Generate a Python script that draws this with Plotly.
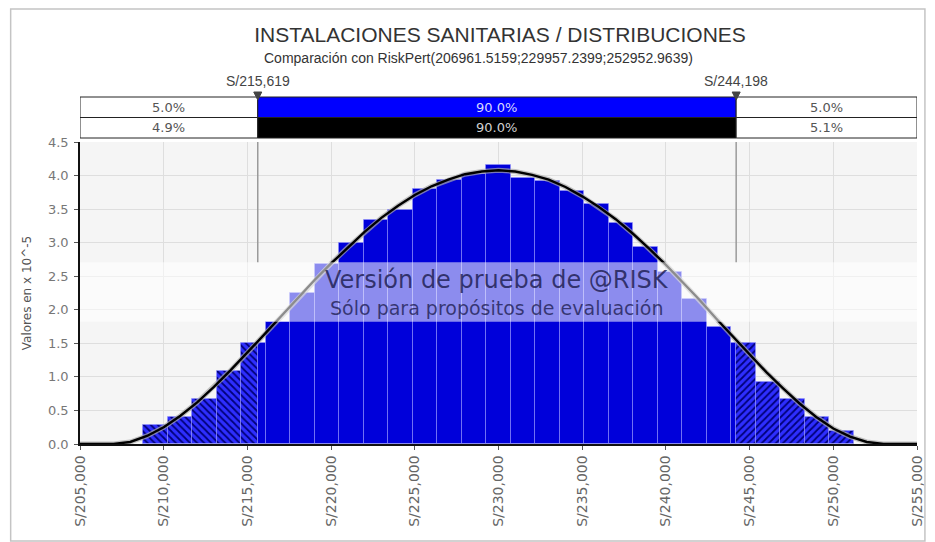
import plotly.graph_objects as go

# ---------------- data ----------------
TITLE = "INSTALACIONES SANITARIAS / DISTRIBUCIONES"
SUBTITLE = "Comparación con RiskPert(206961.5159;229957.2399;252952.9639)"
Y_TITLE = "Valores en x 10^-5"

BIN_START = 208771
BIN_WIDTH = 1464
BAR_HEIGHTS = [0.28, 0.40, 0.67, 1.09, 1.50, 1.82, 2.25, 2.68, 3.00, 3.34,
               3.49, 3.80, 3.93, 4.02, 4.15, 3.97, 3.92, 3.77, 3.57, 3.29,
               2.94, 2.57, 2.16, 1.75, 1.50, 0.93, 0.67, 0.40, 0.20]

CURVE_X = [205000, 206000, 207000, 208000, 209000, 210000, 211000, 212000, 213000, 214000,
           215000, 216000, 217000, 218000, 219000, 220000, 221000, 222000, 223000, 224000,
           225000, 226000, 227000, 228000, 229000, 230000, 231000, 232000, 233000, 234000,
           235000, 236000, 237000, 238000, 239000, 240000, 241000, 242000, 243000, 244000,
           245000, 246000, 247000, 248000, 249000, 250000, 251000, 252000, 253000, 254000,
           255000]
CURVE_Y = [0.00, 0.00, 0.00, 0.03, 0.12, 0.25, 0.42, 0.62, 0.85, 1.10,
           1.36, 1.63, 1.90, 2.17, 2.44, 2.69, 2.93, 3.16, 3.37, 3.55,
           3.71, 3.84, 3.94, 4.02, 4.06, 4.08, 4.06, 4.01, 3.94, 3.83,
           3.69, 3.53, 3.35, 3.14, 2.91, 2.67, 2.41, 2.15, 1.87, 1.60,
           1.33, 1.07, 0.83, 0.60, 0.40, 0.23, 0.11, 0.03, 0.00, 0.00,
           0.00]

DELIM_LEFT = 215619
DELIM_RIGHT = 244198
DELIM_LABELS = ["S/215,619", "S/244,198"]
ROW1_TEXT = ["5.0%", "90.0%", "5.0%"]
ROW2_TEXT = ["4.9%", "90.0%", "5.1%"]

X_MIN, X_MAX = 205000, 255000
X_TICKS = [205000, 210000, 215000, 220000, 225000, 230000, 235000, 240000, 245000, 250000, 255000]
X_TICK_TEXT = ["S/205,000", "S/210,000", "S/215,000", "S/220,000", "S/225,000", "S/230,000",
               "S/235,000", "S/240,000", "S/245,000", "S/250,000", "S/255,000"]
Y_TICKS = [0, 0.5, 1.0, 1.5, 2.0, 2.5, 3.0, 3.5, 4.0, 4.5]

WATERMARK_1 = "Versión de prueba de @RISK"
WATERMARK_2 = "Sólo para propósitos de evaluación"
BAND = (1.82, 2.71)

# ---------------- layout geometry ----------------
OFF = 8                       # page body margin
W, H = 927, 534
ML, MR, MT, MB = 72, 10, 134, 98
PW, PH = W - ML - MR, H - MT - MB


def py(pix):  # reference pixel row -> paper y
    return (H - MB - (pix - OFF)) / PH


def px(pix):  # reference pixel col -> paper x
    return (pix - OFF - ML) / PW


SANS = "Liberation Sans, Arial, sans-serif"
DJ = "DejaVu Sans, Verdana, sans-serif"

# ---------------- bars (split at the delimiters) ----------------
SOLID = "#0000da"
HATCH_BG = "#2e2eff"
sx, sw, sy = [], [], []          # solid (inside 90%)
hx, hw, hy, hs = [], [], [], []  # hatched tails
for i, h in enumerate(BAR_HEIGHTS):
    lo = BIN_START + i * BIN_WIDTH
    hi = lo + BIN_WIDTH
    cuts = [lo] + [d for d in (DELIM_LEFT, DELIM_RIGHT) if lo < d < hi] + [hi]
    for a, b in zip(cuts[:-1], cuts[1:]):
        mid = (a + b) / 2
        if DELIM_LEFT <= mid <= DELIM_RIGHT:
            sx.append(mid); sw.append(b - a); sy.append(h)
        else:
            hx.append(mid); hw.append(b - a); hy.append(h)
            hs.append("\\" if mid < DELIM_LEFT else "/")

fig = go.Figure()
fig.add_trace(go.Bar(
    x=sx, y=sy, width=sw,
    marker=dict(color=SOLID, line=dict(color="rgba(150,150,255,0.55)", width=1)),
    hoverinfo="skip", showlegend=False))
fig.add_trace(go.Bar(
    x=hx, y=hy, width=hw,
    marker=dict(color=HATCH_BG, line=dict(color="rgba(150,150,255,0.55)", width=1),
                pattern=dict(shape=hs, fillmode="overlay", bgcolor=HATCH_BG,
                             fgcolor="#000078", fgopacity=1, size=5, solidity=0.35)),
    hoverinfo="skip", showlegend=False))

fig.add_trace(go.Scatter(x=CURVE_X, y=CURVE_Y, mode="lines",
                         line=dict(color="rgba(170,170,170,0.7)", width=5),
                         hoverinfo="skip", showlegend=False))
fig.add_trace(go.Scatter(x=CURVE_X, y=CURVE_Y, mode="lines",
                         line=dict(color="black", width=2.4),
                         hoverinfo="skip", showlegend=False))

shapes = []
# watermark band
shapes.append(dict(type="rect", xref="paper", yref="y", x0=0, x1=1, y0=BAND[0], y1=BAND[1],
                   fillcolor="rgba(255,255,255,0.55)", line=dict(width=0), layer="above"))
# delimiter lines
for d in (DELIM_LEFT, DELIM_RIGHT):
    shapes.append(dict(type="line", xref="x", yref="y", x0=d, x1=d, y0=BAND[1], y1=4.5,
                       line=dict(color="#9a9a9a", width=1.5), layer="above"))

# percentage box
row_y = [(py(97), py(117.5)), (py(117.5), py(138))]
cells_x = [(X_MIN, DELIM_LEFT), (DELIM_LEFT, DELIM_RIGHT), (DELIM_RIGHT, X_MAX)]
fills = [["white", "#0000ff", "white"], ["white", "black", "white"]]
for r in range(2):
    for c in range(3):
        shapes.append(dict(type="rect", xref="x", yref="paper",
                           x0=cells_x[c][0], x1=cells_x[c][1],
                           y0=row_y[r][1], y1=row_y[r][0],
                           fillcolor=fills[r][c], line=dict(color="#222", width=1)))
# triangles
for d in (DELIM_LEFT, DELIM_RIGHT):
    t0, t1 = py(92), py(100)
    shapes.append(dict(type="path", xref="x", yref="paper",
                       path=f"M {d-240},{t0} L {d+240},{t0} L {d},{t1} Z",
                       fillcolor="#444", line=dict(color="#444", width=1)))
# outer frame
shapes.append(dict(type="rect", xref="paper", yref="paper",
                   x0=px(10), x1=px(933), y0=py(541), y1=py(9),
                   line=dict(color="#c4c4c4", width=1.5)))

annotations = []
row_text = [ROW1_TEXT, ROW2_TEXT]
text_cols = [["#555", "#d8d8ff", "#555"], ["#555", "#d0d0d0", "#555"]]
for r in range(2):
    for c in range(3):
        annotations.append(dict(xref="x", yref="paper",
                                x=(cells_x[c][0] + cells_x[c][1]) / 2,
                                y=(row_y[r][0] + row_y[r][1]) / 2, yanchor="middle",
                                text=row_text[r][c], showarrow=False,
                                font=dict(family=DJ, size=13, color=text_cols[r][c])))
for d, lab in zip((DELIM_LEFT, DELIM_RIGHT), DELIM_LABELS):
    annotations.append(dict(xref="x", yref="paper", x=d, y=py(81), yanchor="middle", text=lab,
                            showarrow=False, font=dict(family=SANS, size=14, color="#444")))
annotations.append(dict(xref="paper", yref="paper", x=px(482), y=py(58), yanchor="middle",
                        text=SUBTITLE, showarrow=False,
                        font=dict(family=SANS, size=14, color="#333")))
annotations.append(dict(xref="paper", yref="y", x=px(501), y=2.44, yanchor="middle",
                        text=WATERMARK_1, showarrow=False,
                        font=dict(family=DJ, size=24, color="rgba(25,25,75,0.8)")))
annotations.append(dict(xref="paper", yref="y", x=px(501), y=2.02, yanchor="middle",
                        text=WATERMARK_2, showarrow=False,
                        font=dict(family=DJ, size=19, color="rgba(25,25,75,0.75)")))

fig.update_layout(
    width=W, height=H,
    margin=dict(l=ML, r=MR, t=MT, b=MB),
    paper_bgcolor="white", plot_bgcolor="#f5f5f5",
    bargap=0, barmode="overlay",
    title=dict(text=TITLE, x=(500 - OFF) / W, xanchor="center",
               y=1 - (35 - OFF) / H, yanchor="middle",
               font=dict(family=SANS, size=21, color="#333")),
    shapes=shapes, annotations=annotations,
    xaxis=dict(range=[X_MIN, X_MAX], tickvals=X_TICKS, ticktext=X_TICK_TEXT, tickangle=-90,
               showgrid=True, gridcolor="#dedede", zeroline=False,
               showline=True, linecolor="#111", linewidth=1.5,
               ticks="outside", ticklen=4, tickcolor="#555",
               tickfont=dict(family=DJ, size=14, color="#666")),
    yaxis=dict(range=[0, 4.5], tickvals=Y_TICKS, tickformat=".1f",
               showgrid=True, gridcolor="#dedede", zeroline=False,
               showline=True, linecolor="#111", linewidth=1.5,
               ticks="outside", ticklen=4, tickcolor="#555", ticklabelstandoff=3,
               tickfont=dict(family=DJ, size=13, color="#777"),
               title=dict(text=Y_TITLE, font=dict(family=DJ, size=12, color="#555"), standoff=14)),
)

fig.write_html("out.html")
